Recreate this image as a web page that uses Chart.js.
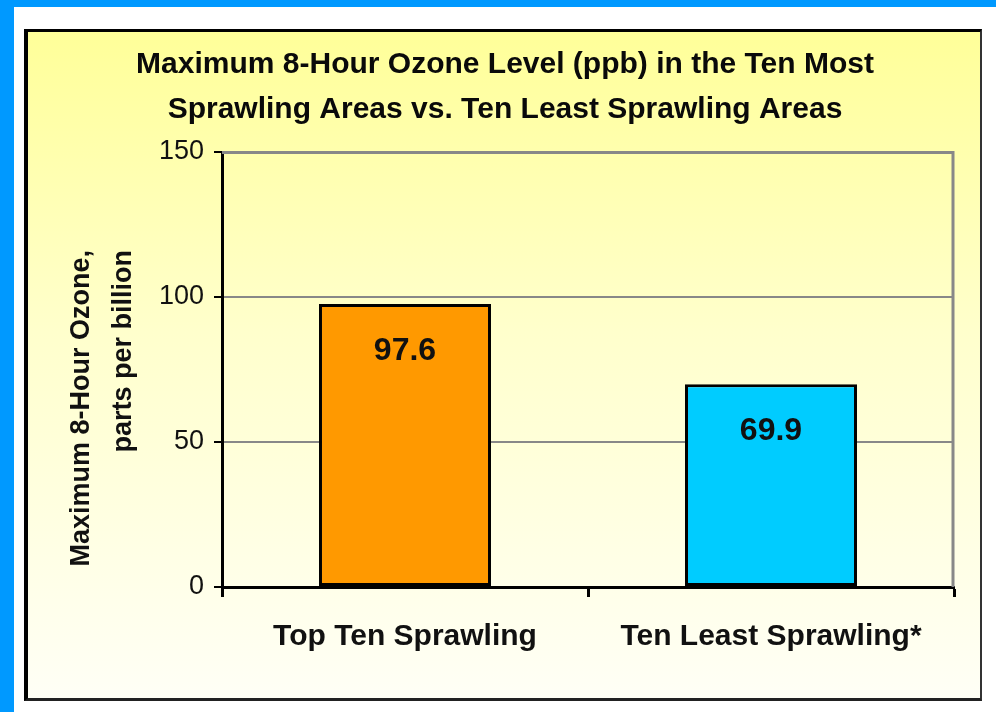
<!DOCTYPE html>
<html>
<head>
<meta charset="utf-8">
<script src="https://cdn.jsdelivr.net/npm/chart.js@4/dist/chart.umd.min.js"></script>
<style>
  body { margin: 0; background: #0099ff; width: 996px; height: 712px; overflow: hidden; position: relative; font-family: "Liberation Sans", Arial, sans-serif; }
  #panel { position: absolute; left: 14px; top: 7px; width: 982px; height: 705px; background: #fff; }
  #box { position: absolute; left: 24px; top: 29px; width: 952px; height: 666px;
         border-top: 3px solid #000; border-left: 4px solid #000; border-right: 2px solid #333; border-bottom: 3px solid #222;
         background: linear-gradient(to bottom, #ffff99 0%, #ffffcc 45%, #fffff6 100%); }
  #ozone { position: absolute; left: 0; top: 0; width: 996px; height: 712px; }
</style>
</head>
<body>
<div id="panel"></div>
<div id="box"></div>
<canvas id="ozone" width="996" height="712"></canvas>
<script>
const categories = ["Top Ten Sprawling", "Ten Least Sprawling*"]
const ozoneValues = [97.6, 69.9]
const barColors = ["#ff9900", "#00ccff"]
const titleLines = ["Maximum 8-Hour Ozone Level (ppb) in the Ten Most", "Sprawling Areas vs. Ten Least Sprawling Areas"]
const yTitleLines = ["Maximum 8-Hour Ozone,", "parts per billion"]

// value labels inside the bars + the gray top/right edge of the plot + y title
const extras = {
    id: "extras",
    beforeDatasetsDraw(chart) {
        const ctx = chart.ctx, a = chart.chartArea
        ctx.save()
        ctx.strokeStyle = "#888888"
        ctx.lineWidth = 3
        ctx.beginPath()
        ctx.moveTo(a.left, a.top + 0.5)
        ctx.lineTo(a.right - 1, a.top + 0.5)
        ctx.lineTo(a.right - 1, a.bottom)
        ctx.stroke()
        ctx.restore()
    },
    afterDatasetsDraw(chart) {
        const ctx = chart.ctx
        const meta = chart.getDatasetMeta(0)
        ctx.save()
        ctx.font = "bold 32px 'Liberation Sans', Arial, sans-serif"
        ctx.fillStyle = "#111"
        ctx.textAlign = "center"
        ctx.textBaseline = "middle"
        meta.data.forEach((bar, i) => {
            ctx.fillText(ozoneValues[i].toFixed(1), bar.x, bar.y + 47)
        })
        ctx.restore()
    },
    afterDraw(chart) {
        const ctx = chart.ctx
        ctx.save()
        ctx.font = "bold 27px 'Liberation Sans', Arial, sans-serif"
        ctx.fillStyle = "#111"
        ctx.textAlign = "right"
        ctx.textBaseline = "middle"
        ctx.translate(82, 250)
        ctx.rotate(-Math.PI / 2)
        ctx.fillText(yTitleLines[0], 0, 0)
        ctx.fillText(yTitleLines[1], 0, 42)
        ctx.restore()
    }
}

new Chart("ozone", {
    type: "bar",
    data: {
        labels: categories,
        datasets: [{
            data: ozoneValues,
            backgroundColor: barColors,
            borderColor: "#000",
            borderWidth: 3,
            borderSkipped: false,
            barPercentage: 0.47,
            categoryPercentage: 1
        }]
    },
    options: {
        responsive: false,
        animation: false,
        devicePixelRatio: 1,
        layout: { padding: { left: 56, right: 42, top: 0, bottom: 0 } },
        plugins: {
            legend: { display: false },
            tooltip: { enabled: false },
            title: {
                display: true,
                text: titleLines,
                color: "#0a0a0a",
                font: { family: "'Liberation Sans', Arial, sans-serif", size: 30, weight: "bold", lineHeight: 1.5 },
                padding: { top: 42, bottom: 20 }
            }
        },
        scales: {
            x: {
                afterFit(scale) { scale.height = 125 },
                grid: { drawOnChartArea: false, drawTicks: true, tickLength: 10, tickColor: "#000", tickWidth: 3 },
                border: { color: "#000", width: 3 },
                ticks: {
                    color: "#111",
                    padding: 22,
                    font: { family: "'Liberation Sans', Arial, sans-serif", size: 30, weight: "bold" }
                }
            },
            y: {
                min: 0,
                max: 150,
                afterFit(scale) { scale.width = 166 },
                grid: { color: "#888888", lineWidth: 2, tickColor: "#000", tickLength: 8, tickWidth: 2 },
                border: { color: "#000", width: 3 },
                ticks: {
                    stepSize: 50,
                    color: "#111",
                    padding: 10,
                    font: { family: "'Liberation Sans', Arial, sans-serif", size: 27 }
                }
            }
        }
    },
    plugins: [extras]
})
</script>
</body>
</html>
